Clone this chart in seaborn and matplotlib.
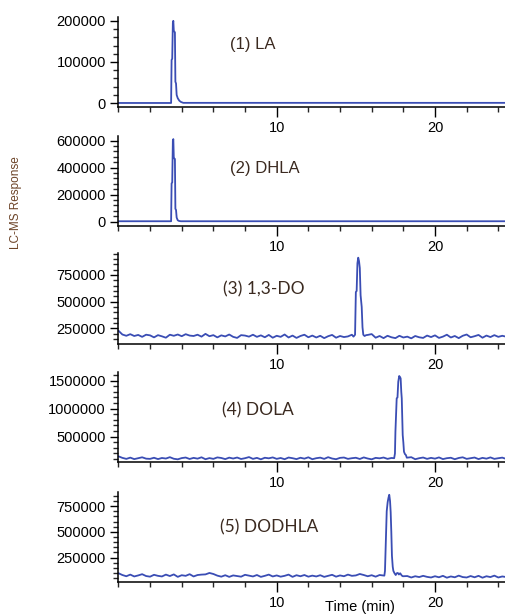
import numpy as np
import pandas as pd
import matplotlib
matplotlib.use("Agg")
import matplotlib.pyplot as plt
from matplotlib.ticker import AutoMinorLocator, FixedLocator, MultipleLocator
import seaborn as sns

# ---------------- data ----------------
panel_labels = ["(1) LA", "(2) DHLA", "(3) 1,3-DO", "(4) DOLA", "(5) DODHLA"]
x_major_ticks = [10, 20]

# panels 1 & 2: flat baseline with an early sharp peak
time1 = [0.0, 3.33, 3.36, 3.40, 3.44, 3.47, 3.50, 3.53, 3.57, 3.60, 3.64, 3.68, 3.75, 3.85, 3.95, 4.10, 24.42]
resp1 = [500, 500, 105000, 108000, 195000, 200000, 176000, 174000, 172000, 52000, 48000, 20000, 12000, 6000, 3000, 800, 800]

time2 = [0.0, 3.33, 3.36, 3.40, 3.44, 3.47, 3.50, 3.53, 3.57, 3.60, 3.64, 3.68, 3.75, 3.83, 3.95, 24.42]
resp2 = [3000, 3000, 284000, 290000, 600000, 612000, 470000, 468000, 465000, 95000, 87000, 30000, 10000, 5000, 3000, 3000]

# shared acquisition times for the noisy baselines of panels 3-5 (min)
base_time = [0.0, 0.25, 0.5, 0.75, 1.0, 1.25, 1.5, 1.75, 2.0, 2.25,
             2.5, 2.75, 3.0, 3.25, 3.5, 3.75, 4.0, 4.25, 4.5, 4.75,
             5.0, 5.25, 5.5, 5.75, 6.0, 6.25, 6.5, 6.75, 7.0, 7.25,
             7.5, 7.75, 8.0, 8.25, 8.5, 8.75, 9.0, 9.25, 9.5, 9.75,
             10.0, 10.25, 10.5, 10.75, 11.0, 11.25, 11.5, 11.75, 12.0, 12.25,
             12.5, 12.75, 13.0, 13.25, 13.5, 13.75, 14.0, 14.25, 14.5, 14.75,
             15.0, 15.25, 15.5, 15.75, 16.0, 16.25, 16.5, 16.75, 17.0, 17.25,
             17.5, 17.75, 18.0, 18.25, 18.5, 18.75, 19.0, 19.25, 19.5, 19.75,
             20.0, 20.25, 20.5, 20.75, 21.0, 21.25, 21.5, 21.75, 22.0, 22.25,
             22.5, 22.75, 23.0, 23.25, 23.5, 23.75, 24.0, 24.25, 24.42]

# responses in thousands
base3 = [228, 192, 180, 195, 178, 188, 170, 190, 184, 165,
         186, 175, 162, 190, 180, 192, 176, 195, 182, 178,
         190, 172, 198, 176, 186, 165, 184, 174, 192, 170,
         160, 186, 182, 172, 190, 170, 184, 166, 188, 162,
         180, 170, 192, 164, 182, 160, 178, 190, 166, 182,
         164, 180, 158, 176, 188, 162, 178, 168, 174, 190,
         176, 175, 174, 188, 196, 162, 178, 158, 180, 166,
         158, 180, 164, 172, 156, 178, 166, 160, 182, 168,
         184, 160, 172, 190, 164, 178, 158, 180, 192, 166,
         176, 188, 162, 182, 168, 186, 170, 180, 174]
peak3_time = [14.85, 14.95, 15.0, 15.05, 15.1, 15.15, 15.2, 15.25, 15.3, 15.37, 15.42, 15.47, 15.55, 15.65]
peak3_resp = [172, 190, 590, 600, 860, 912, 880, 815, 560, 450, 260, 190, 178, 186]

base4 = [150, 122, 104, 126, 100, 116, 132, 108, 104, 124,
         100, 120, 110, 134, 106, 96, 118, 128, 102, 122,
         108, 132, 98, 118, 104, 130, 120, 100, 126, 110,
         128, 102, 116, 136, 104, 122, 96, 124, 114, 130,
         104, 120, 98, 128, 116, 100, 124, 108, 132, 98,
         116, 126, 104, 134, 110, 98, 122, 128, 104, 116,
         124, 102, 130, 110, 96, 122, 114, 128, 104, 120,
         114, 104, 126, 110, 134, 98, 116, 128, 104, 122,
         108, 130, 100, 116, 124, 98, 120, 132, 104, 116,
         128, 100, 122, 108, 130, 104, 116, 126, 110]
peak4_time = [17.42, 17.47, 17.5, 17.58, 17.63, 17.68, 17.74, 17.8, 17.83, 17.87, 17.9, 17.96, 18.0, 18.04, 18.1, 18.16, 18.22]
peak4_resp = [116, 200, 590, 1186, 1200, 1482, 1584, 1560, 1540, 1300, 1186, 530, 400, 232, 190, 173, 125]

base5 = [98, 80, 68, 84, 66, 76, 88, 70, 64, 82,
         72, 66, 84, 70, 86, 62, 78, 72, 88, 66,
         80, 84, 86, 100, 90, 74, 64, 78, 62, 76,
         70, 64, 82, 74, 66, 80, 62, 72, 84, 66,
         76, 64, 72, 84, 62, 78, 68, 80, 64, 74,
         66, 78, 62, 72, 82, 64, 76, 68, 84, 72,
         76, 90, 80, 68, 78, 64, 80, 70, 68, 66,
         74, 64, 58, 70, 56, 68, 60, 72, 62, 56,
         68, 58, 72, 54, 66, 58, 74, 60, 56, 70,
         58, 72, 54, 68, 60, 74, 56, 66, 62]
peak5_time = [16.8, 16.84, 16.88, 16.95, 17.01, 17.06, 17.11, 17.16, 17.2, 17.24, 17.28, 17.33, 17.37,
              17.45, 17.52, 17.58, 17.65, 17.72, 17.8, 17.9, 17.97]
peak5_resp = [74, 120, 332, 700, 789, 830, 860, 800, 691, 500, 267, 160, 120,
              95, 80, 97, 100, 85, 97, 75, 68]

y_limits = [(-10000, 210000), (-30000, 637000), (103000, 953000), (53500, 1650000), (15000, 887000)]
y_ticks = [[0, 100000, 200000], [0, 200000, 400000, 600000], [250000, 500000, 750000],
           [500000, 1000000, 1500000], [250000, 500000, 750000]]


def merge(bt, bv, pt, pv, scale=1000):
    lo, hi = min(pt), max(pt)
    rows = [(t, v * scale) for t, v in zip(bt, bv) if not (lo - 0.05 <= t <= hi + 0.05)]
    rows += [(t, v * scale) for t, v in zip(pt, pv)]
    rows.sort()
    return pd.DataFrame(rows, columns=["time", "resp"])


frames = [
    pd.DataFrame({"time": time1, "resp": resp1}),
    pd.DataFrame({"time": time2, "resp": resp2}),
    merge(base_time, base3, peak3_time, peak3_resp),
    merge(base_time, base4, peak4_time, peak4_resp),
    merge(base_time, base5, peak5_time, peak5_resp),
]

# ---------------- style ----------------
sns.set_style("ticks")
plt.rcParams["font.family"] = ["Liberation Sans", "DejaVu Sans"]

W, H = 505, 615
fig = plt.figure(figsize=(W / 100, H / 100), dpi=100)

line_color = "#3a4db4"
text_color = "#3b2a20"

# axes extents in pixels (top, bottom)
extents = [(16.7, 107.3), (135.7, 225.7), (253.3, 344.0), (372.3, 461.7), (492.0, 581.7)]
left_px = 118.4
px_per_min = 15.83
x_max = (W - left_px) / px_per_min
label_pos = [(230, 45), (230, 168), (223, 289), (222, 410), (220, 527)]
label_fonts = ["Liberation Sans", "Liberation Sans", "Lato", "Lato", "Lato"]
label_sizes = [12, 12, 12.5, 12.5, 12.5]

for i, (df, (top, bot)) in enumerate(zip(frames, extents)):
    ax = fig.add_axes([left_px / W, 1 - bot / H, (W - left_px) / W, (bot - top) / H])
    sns.lineplot(data=df, x="time", y="resp", ax=ax, color=line_color, linewidth=1.3,
                 estimator=None, sort=False)
    ax.set_xlim(0, x_max)
    ax.set_ylim(*y_limits[i])
    ax.xaxis.set_major_locator(FixedLocator(x_major_ticks))
    ax.xaxis.set_minor_locator(MultipleLocator(2))
    ax.yaxis.set_major_locator(FixedLocator(y_ticks[i]))
    ax.yaxis.set_minor_locator(AutoMinorLocator(5))
    ax.set_yticklabels([str(v) for v in y_ticks[i]])
    ax.set_xticklabels([str(v) for v in x_major_ticks])
    ax.tick_params(axis="both", which="major", direction="out", length=7, width=1,
                   labelsize=10.5, colors="black", pad=3)
    ax.tick_params(axis="both", which="minor", direction="out", length=3.5, width=1)
    ax.tick_params(axis="y", which="major", length=6)
    ax.set_xlabel("")
    ax.set_ylabel("")
    ax.patch.set_alpha(0)
    sns.despine(ax=ax)
    for s in ["left", "bottom"]:
        ax.spines[s].set_linewidth(1.1)
        ax.spines[s].set_color("black")
    lx, ly = label_pos[i]
    fig.text(lx / W, 1 - ly / H, panel_labels[i], ha="left", va="center",
             fontsize=label_sizes[i], color=text_color, family=[label_fonts[i], "DejaVu Sans"])

fig.text(16 / W, 1 - 203 / H, "LC-MS Response", rotation=90, ha="center", va="center",
         fontsize=8.5, color="#6b4226")
fig.text(360 / W, 1 - 607 / H, "Time (min)", ha="center", va="center",
         fontsize=10.5, color="black")

fig.savefig("out.png", dpi=100)
